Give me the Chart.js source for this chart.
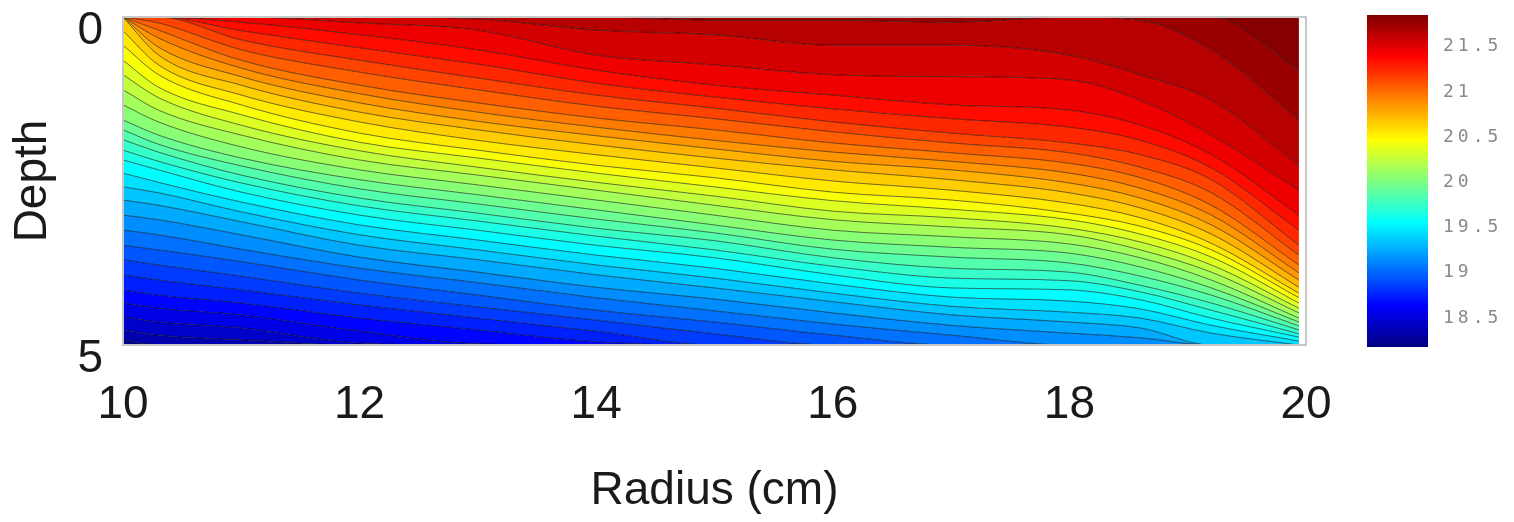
<!DOCTYPE html>
<html>
<head>
<meta charset="utf-8">
<script src="https://cdn.jsdelivr.net/npm/chart.js@4.4.1/dist/chart.umd.min.js"></script>
<style>
  html, body { margin: 0; padding: 0; background: #fff; }
  #wrap { position: relative; width: 1514px; height: 522px; }
  #main { position: absolute; left: 0; top: 0; }
  #cbar { position: absolute; left: 1340px; top: 0; }
</style>
</head>
<body>
<div id="wrap">
  <canvas id="main" width="1514" height="522"></canvas>
  <canvas id="cbar" width="174" height="360"></canvas>
</div>
<script>
// radius positions (cm) where the isotherm depths were read
var RADIUS = [10, 10.3, 11, 12, 13, 14, 15, 16, 17, 18, 18.6, 19.2, 19.94];

// contour levels (temperature), one line each
var LEVELS = [18.3, 18.4, 18.5, 18.6, 18.7, 18.8, 18.9, 19.0, 19.1, 19.2, 19.3, 19.4,
              19.5, 19.6, 19.7, 19.8, 19.9, 20.0, 20.1, 20.2, 20.3, 20.4, 20.5, 20.6,
              20.7, 20.8, 20.9, 21.0, 21.1, 21.2, 21.3, 21.4, 21.5, 21.6, 21.7, 21.8];

// depth of each isotherm at the RADIUS positions (0 = top, 5 = bottom)
var d183 = [4.92, 5, 5, 5, 5, 5, 5, 5, 5, 5, 5, 5, 5];
var d184 = [4.77, 4.85, 4.92, 5, 5, 5, 5, 5, 5, 5, 5, 5, 5];
var d185 = [4.57, 4.65, 4.74, 4.97, 5, 5, 5, 5, 5, 5, 5, 5, 5];
var d186 = [4.36, 4.44, 4.54, 4.79, 4.98, 5, 5, 5, 5, 5, 5, 5, 5];
var d187 = [4.16, 4.24, 4.36, 4.59, 4.77, 4.95, 5, 5, 5, 5, 5, 5, 5];
var d188 = [3.93, 4.01, 4.16, 4.39, 4.59, 4.79, 5, 5, 5, 5, 5, 5, 5];
var d189 = [3.70, 3.78, 3.95, 4.21, 4.42, 4.62, 4.83, 5, 5, 5, 5, 5, 5];
var d190 = [3.48, 3.55, 3.73, 4.01, 4.24, 4.47, 4.65, 4.85, 5, 5, 5, 5, 5];
var d191 = [3.25, 3.32, 3.54, 3.83, 4.05, 4.28, 4.48, 4.68, 4.85, 5, 5, 5, 5];
var d192 = [3.02, 3.09, 3.32, 3.66, 3.89, 4.12, 4.30, 4.51, 4.70, 4.82, 4.89, 5, 5];
var d193 = [2.79, 2.87, 3.12, 3.48, 3.70, 3.93, 4.13, 4.34, 4.54, 4.65, 4.74, 5, 5];
var d194 = [2.59, 2.68, 2.97, 3.32, 3.55, 3.78, 3.98, 4.21, 4.41, 4.50, 4.59, 4.82, 5];
var d195 = [2.38, 2.52, 2.82, 3.17, 3.40, 3.63, 3.83, 4.07, 4.27, 4.33, 4.45, 4.70, 4.94];
var d196 = [2.18, 2.33, 2.67, 3.02, 3.25, 3.48, 3.67, 3.93, 4.13, 4.16, 4.31, 4.59, 4.88];
var d197 = [2.03, 2.20, 2.53, 2.88, 3.11, 3.34, 3.55, 3.80, 3.98, 4.02, 4.19, 4.47, 4.83];
var d198 = [1.87, 2.06, 2.41, 2.76, 2.99, 3.22, 3.41, 3.67, 3.83, 3.89, 4.09, 4.36, 4.77];
var d199 = [1.72, 1.94, 2.27, 2.62, 2.85, 3.08, 3.29, 3.54, 3.66, 3.75, 3.95, 4.24, 4.71];
var d200 = [1.57, 1.80, 2.15, 2.48, 2.71, 2.94, 3.17, 3.40, 3.51, 3.60, 3.81, 4.13, 4.65];
var d201 = [1.34, 1.60, 1.98, 2.33, 2.56, 2.79, 3.02, 3.25, 3.35, 3.46, 3.67, 4.01, 4.59];
var d202 = [1.11, 1.42, 1.80, 2.18, 2.41, 2.64, 2.87, 3.09, 3.20, 3.32, 3.55, 3.89, 4.51];
var d203 = [0.88, 1.23, 1.65, 2.04, 2.29, 2.52, 2.73, 2.96, 3.06, 3.22, 3.43, 3.78, 4.44];
var d204 = [0.66, 1.07, 1.49, 1.91, 2.15, 2.38, 2.59, 2.80, 2.93, 3.09, 3.31, 3.66, 4.36];
var d205 = [0.43, 0.88, 1.34, 1.77, 2.03, 2.26, 2.45, 2.67, 2.79, 2.99, 3.19, 3.55, 4.28];
var d206 = [0.21, 0.73, 1.19, 1.60, 1.88, 2.10, 2.30, 2.50, 2.64, 2.84, 3.06, 3.45, 4.21];
var d207 = [0, 0.58, 1.04, 1.45, 1.72, 1.95, 2.15, 2.33, 2.48, 2.68, 2.91, 3.31, 4.12];
var d208 = [0, 0.46, 0.91, 1.31, 1.59, 1.81, 2.01, 2.20, 2.33, 2.53, 2.76, 3.17, 4.01];
var d209 = [0, 0.32, 0.78, 1.17, 1.45, 1.68, 1.88, 2.06, 2.20, 2.38, 2.61, 3.02, 3.90];
var d210 = [0, 0.20, 0.66, 1.04, 1.31, 1.54, 1.72, 1.92, 2.07, 2.23, 2.45, 2.87, 3.78];
var d211 = [0, 0.09, 0.50, 0.84, 1.11, 1.36, 1.55, 1.75, 1.92, 2.07, 2.29, 2.68, 3.63];
var d212 = [0, 0, 0.35, 0.66, 0.93, 1.19, 1.39, 1.60, 1.77, 1.92, 2.10, 2.48, 3.48];
var d213 = [0, 0, 0.21, 0.47, 0.72, 1.01, 1.22, 1.40, 1.55, 1.68, 1.88, 2.30, 3.25];
var d214 = [0, 0, 0.08, 0.27, 0.50, 0.81, 1.04, 1.19, 1.34, 1.42, 1.65, 2.10, 3.02];
var d215 = [0, 0, 0, 0.09, 0.20, 0.58, 0.73, 0.88, 0.91, 0.96, 1.27, 1.80, 2.64];
var d216 = [0, 0, 0, 0, 0.03, 0.20, 0.27, 0.43, 0.43, 0.58, 0.88, 1.27, 2.26];
var d217 = [0, 0, 0, 0, 0, 0, 0.05, 0.05, 0.08, 0, 0.05, 0.50, 1.57];
var d218 = [0, 0, 0, 0, 0, 0, 0, 0, 0, 0, 0, 0, 0.81];

var ISOTHERMS = [d183, d184, d185, d186, d187, d188, d189, d190, d191, d192, d193, d194,
                 d195, d196, d197, d198, d199, d200, d201, d202, d203, d204, d205, d206,
                 d207, d208, d209, d210, d211, d212, d213, d214, d215, d216, d217, d218];

var X_TICKS = [10, 12, 14, 16, 18, 20];
var Y_TICKS = [0, 5];
var CBAR_TICKS = [18.5, 19, 19.5, 20, 20.5, 21, 21.5];
var CBAR_MIN = 18.18, CBAR_MAX = 21.85;

var FONT = '"Liberation Sans", Arial, sans-serif';
var INK = '#1a1a1a';

function jet(t) {
	var f = (t - CBAR_MIN) / (CBAR_MAX - CBAR_MIN);
	var c = function(v) { return Math.round(255 * Math.max(0, Math.min(1, v))); };
	return 'rgb(' + c(1.5 - Math.abs(4 * f - 3)) + ',' + c(1.5 - Math.abs(4 * f - 2)) + ',' + c(1.5 - Math.abs(4 * f - 1)) + ')';
}

// no extra room for half tick labels: the chart area is placed by hand
function noPad(s) {
	s.paddingTop = 0;
	s.paddingBottom = 0;
}

var datasets = LEVELS.map(function(lev, k) {
	var below = k === 0 ? CBAR_MIN : LEVELS[k - 1];
	return {
		label: String(lev),
		data: RADIUS.map(function(r, i) { return { x: r, y: ISOTHERMS[k][i] }; }),
		borderColor: 'rgba(0,0,0,0.55)',
		borderWidth: 1,
		backgroundColor: jet((below + lev) / 2),
		fill: k === 0 ? { value: 5 } : '-1',
		// lines lying on the top/bottom edge get cut away
		clip: { left: 0, top: -1, right: 0, bottom: -1 }
	};
});
// band above the warmest isotherm
datasets.push({
	label: 'top',
	data: RADIUS.map(function(r) { return { x: r, y: 0 }; }),
	borderWidth: 0,
	borderColor: 'rgba(0,0,0,0)',
	backgroundColor: jet((LEVELS[LEVELS.length - 1] + CBAR_MAX) / 2),
	fill: '-1',
	clip: 0
});

var frame = {
	id: 'frame',
	afterDraw: function(c) {
		var a = c.chartArea, ctx = c.ctx;
		ctx.save();
		ctx.strokeStyle = '#c8c8c8';
		ctx.lineWidth = 2;
		ctx.strokeRect(a.left, a.top, a.right - a.left, a.bottom - a.top);
		ctx.restore();
	}
};

new Chart(document.getElementById('main'), {
	type: 'line',
	data: { datasets: datasets },
	options: {
		responsive: false,
		animation: false,
		devicePixelRatio: 1,
		layout: { padding: { top: 17, right: 208, left: 0, bottom: 0 } },
		plugins: { legend: { display: false }, tooltip: { enabled: false } },
		elements: {
			point: { radius: 0 },
			line: { cubicInterpolationMode: 'monotone' }
		},
		scales: {
			x: {
				type: 'linear', min: 10, max: 20,
				afterBuildTicks: function(s) { s.ticks = X_TICKS.map(function(v) { return { value: v }; }); },
				afterFit: function(s) { s.height = 177; },
				grid: { display: false, drawTicks: false },
				border: { display: false },
				ticks: { padding: 33, color: INK, font: { family: FONT, size: 46 } },
				title: { display: true, text: 'Radius (cm)', color: INK, font: { family: FONT, size: 46 }, padding: { top: 0, bottom: 3 } }
			},
			y: {
				type: 'linear', min: 0, max: 5, reverse: true,
				afterBuildTicks: function(s) { s.ticks = Y_TICKS.map(function(v) { return { value: v }; }); },
				afterFit: function(s) { s.width = 123; noPad(s); },
				grid: { display: false, drawTicks: false },
				border: { display: false },
				ticks: { padding: 20, labelOffset: 14, color: INK, font: { family: FONT, size: 46 } },
				title: { display: true, text: 'Depth', color: INK, font: { family: FONT, size: 46 }, padding: { top: 6, bottom: 0 } }
			}
		}
	},
	plugins: [frame]
});

// colour bar
var JET_STOPS = [[0, 'rgb(0,0,128)'], [0.125, 'rgb(0,0,255)'], [0.375, 'rgb(0,255,255)'],
                 [0.625, 'rgb(255,255,0)'], [0.875, 'rgb(255,0,0)'], [1, 'rgb(128,0,0)']];

new Chart(document.getElementById('cbar'), {
	type: 'bar',
	data: {
		labels: [''],
		datasets: [{
			data: [[CBAR_MIN, CBAR_MAX]],
			backgroundColor: function(ctx) {
				var area = ctx.chart.chartArea;
				if (!area) return 'rgba(0,0,0,0)';
				var g = ctx.chart.ctx.createLinearGradient(0, area.bottom, 0, area.top);
				JET_STOPS.forEach(function(s) { g.addColorStop(s[0], s[1]); });
				return g;
			},
			borderWidth: 0,
			barPercentage: 1,
			categoryPercentage: 1
		}]
	},
	options: {
		responsive: false,
		animation: false,
		devicePixelRatio: 1,
		layout: { padding: { left: 27, top: 15, bottom: 13, right: 0 } },
		plugins: { legend: { display: false }, tooltip: { enabled: false } },
		scales: {
			x: { display: false },
			y: {
				position: 'right', min: CBAR_MIN, max: CBAR_MAX,
				afterBuildTicks: function(s) { s.ticks = CBAR_TICKS.map(function(v) { return { value: v }; }); },
				afterFit: function(s) { s.width = 86; noPad(s); },
				grid: { display: false, drawTicks: false },
				border: { display: false },
				ticks: {
					padding: 15, color: '#8a8a8a',
					font: { family: '"DejaVu Sans Mono", monospace', size: 18 },
					callback: function(v) { return String(v); }
				}
			}
		}
	},
	plugins: [{ id: 'spacing', beforeDraw: function(c) { c.ctx.letterSpacing = '4px'; } }]
});
</script>
</body>
</html>
